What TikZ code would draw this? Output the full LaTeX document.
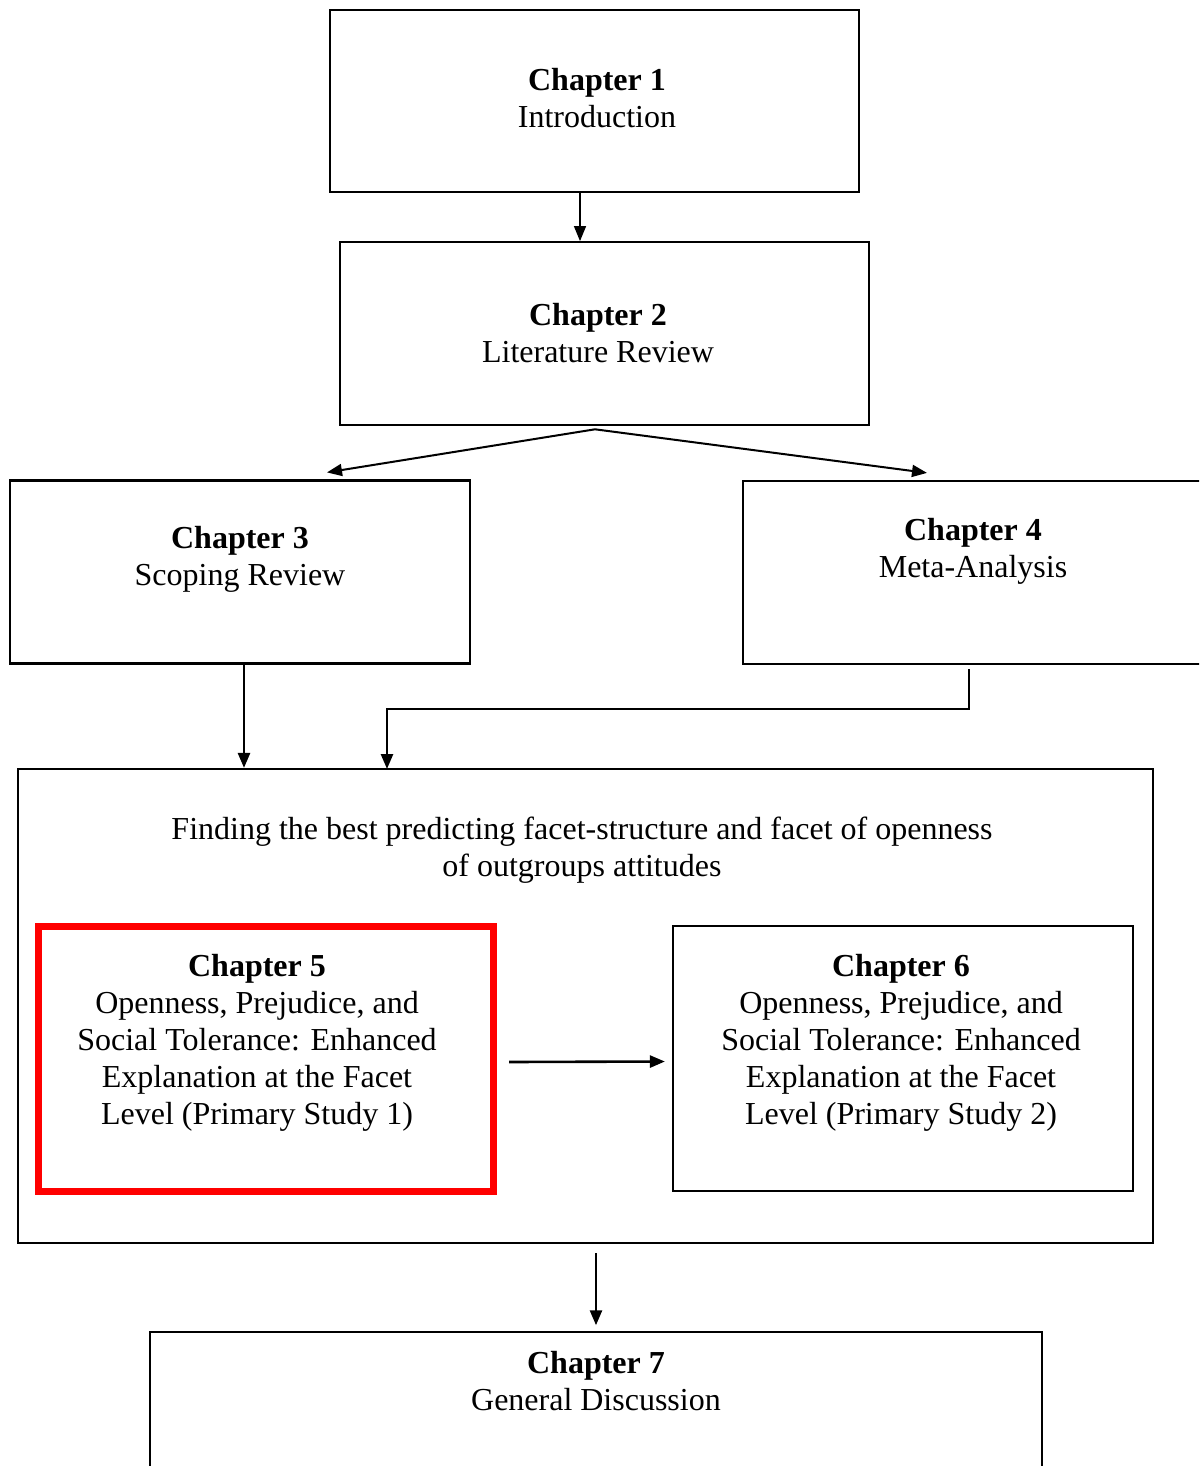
\documentclass[tikz,border=0pt]{standalone}
\usepackage{fontspec}
\setmainfont{Liberation Serif}
\usepackage{tikz}
\usetikzlibrary{arrows.meta,positioning}

\begin{document}
\begin{tikzpicture}[
  x=1pt, y=-1pt,
  chap/.style={draw, line width=2.2pt, inner sep=0pt, minimum width=460pt, minimum height=183pt},
  txt/.style={align=center, font=\fontsize{32}{37}\selectfont, inner sep=0pt},
  arr/.style={-{Triangle[length=15pt,width=12pt]}, line width=2.6pt},
  node distance=48pt,
]
  \clip (0,0) rectangle (1199,1466);

  % Top chapters
  \node[chap, minimum width=529pt, minimum height=182pt] (ch1) at (594.5,101) {};
  \node[txt] (ch1t) at (597,98) {\textbf{Chapter 1}\\Introduction};
  \node[chap, minimum width=529pt, below=48pt of ch1, xshift=10pt] (ch2) {};
  \node[txt] (ch2t) at (598,333) {\textbf{Chapter 2}\\Literature Review};
  \node[chap] (ch3) at (240,572) {};
  \node[txt] (ch3t) at (240,559) {\textbf{Chapter 3}\\Scoping Review};
  \node[chap] (ch4) at (973,572.5) {};
  \node[txt] (ch4t) at (973,551) {\textbf{Chapter 4}\\Meta-Analysis};

  % Study block
  \node[chap, minimum width=1135pt, minimum height=474pt] (big) at (585.5,1006) {};
  \node[txt] (bigt) at (582,850.5) {Finding the best predicting facet-structure and facet of openness\\of outgroups attitudes};
  \node[chap, draw=red, line width=7pt, minimum width=455pt, minimum height=265.5pt] (ch5) at (266,1059) {};
  \node[txt] (ch5t) at (257,1042.5) {\textbf{Chapter 5}\\Openness, Prejudice, and\\Social Tolerance: Enhanced\\Explanation at the Facet\\Level (Primary Study 1)};
  \node[chap, minimum height=265pt] (ch6) at (903,1058.5) {};
  \node[txt] (ch6t) at (901,1042.5) {\textbf{Chapter 6}\\Openness, Prejudice, and\\Social Tolerance: Enhanced\\Explanation at the Facet\\Level (Primary Study 2)};

  % Discussion
  \node[chap, line width=1.5pt, minimum width=892pt, minimum height=300pt] (ch7) at (596,1482) {};
  \node[txt] (ch7t) at (596,1381) {\textbf{Chapter 7}\\General Discussion};

  % Flow
  \draw[arr, line width=1.3pt] ([xshift=-14.5pt]ch1.south) -- ([xshift=-24.5pt]ch2.north);
  \draw[arr, line width=2pt] ([xshift=-9.5pt,yshift=-3pt]ch2.south) -- ([xshift=87pt,yshift=7pt]ch3.north);
  \draw[arr, line width=2pt] ([xshift=-9.5pt,yshift=-3pt]ch2.south) -- ([xshift=-46pt,yshift=7pt]ch4.north);
  \draw[arr] ([xshift=4pt]ch3.south) -- ([xshift=4pt]ch3.south |- big.north);
  \coordinate (ch4in) at (387,769);
  \draw[arr] ([xshift=-4pt,yshift=-4pt]ch4.south) -- ++(0,40) -| (ch4in);
  \draw[arr] ([xshift=12pt,yshift=-3pt]ch5.east) -- ([xshift=-7pt,yshift=-3pt]ch6.west);
  \draw[arr] ([yshift=-9pt]big.south -| ch7.north) -- ([yshift=6pt]ch7.north);
\end{tikzpicture}
\end{document}
